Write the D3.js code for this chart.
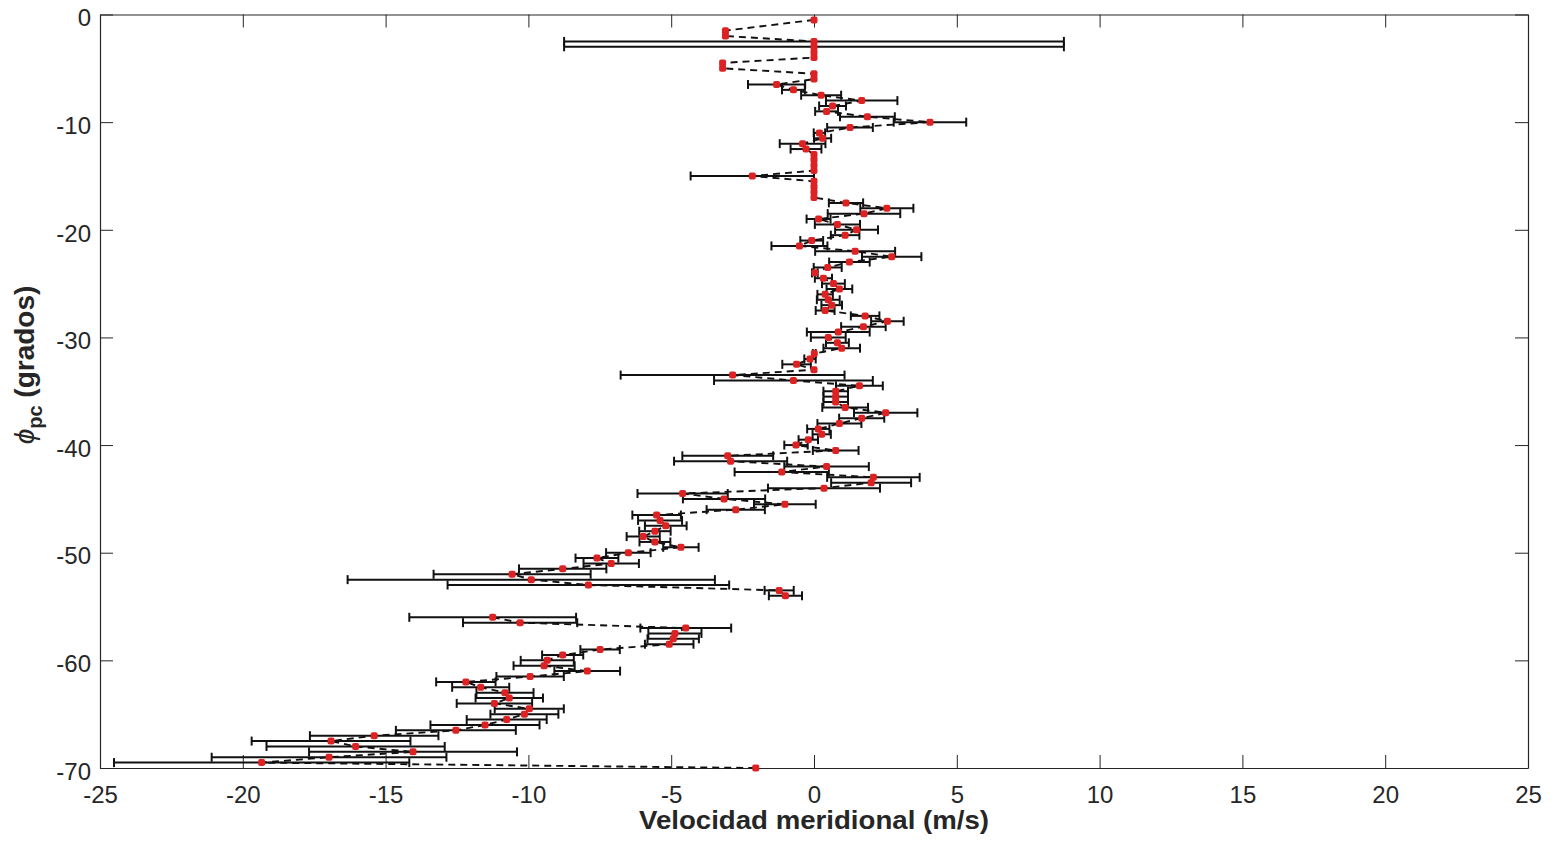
<!DOCTYPE html>
<html lang="es">
<head>
    <meta charset="UTF-8">
    <title>Velocidad meridional</title>
    <script src="https://d3js.org/d3.v7.min.js"></script>
    <style>
        body { margin: 0; background: #fff; }
        svg { display: block; font-family: "Liberation Sans", Arial, sans-serif; }
        .axis text { font-size: 24px; fill: #262626; }
        .axis path, .axis line { stroke: #262626; }
        .label { font-weight: bold; fill: #262626; }
    </style>
</head>
<body>
<div id="chart"></div>
<script>
// latitude (grados) of every sample, top to bottom
const lat = [-0.5, -1.5, -2, -2.5, -3, -3.5, -4, -4.5, -5, -5.5, -6, -6.5, -7, -7.5, -8, -8.5, -9, -9.5, -10,
    -10.5, -11, -11.5, -12, -12.5, -13, -13.5, -14, -14.5, -15, -15.5, -16, -16.5, -17, -17.5, -18, -18.5, -19,
    -19.5, -20, -20.5, -21, -21.5, -22, -22.5, -23, -23.5, -24, -24.5, -25, -25.5, -26, -26.5, -27, -27.5, -28,
    -28.5, -29, -29.5, -30, -30.5, -31, -31.5, -32, -32.5, -33, -33.5, -34, -34.5, -35, -35.5, -36, -36.5, -37,
    -37.5, -38, -38.5, -39, -39.5, -40, -40.5, -41, -41.5, -42, -42.5, -43, -43.5, -44, -44.5, -45, -45.5, -46,
    -46.5, -47, -47.5, -48, -48.5, -49, -49.5, -50, -50.5, -51, -51.5, -52, -52.5, -53, -53.5, -54, -54.5, -55,
    -55.5, -56, -56.5, -57, -57.5, -58, -58.5, -59, -59.5, -60, -60.5, -61, -61.5, -62, -62.5, -63, -63.5, -64,
    -64.5, -65, -65.5, -66, -66.5, -67, -67.5, -68, -68.5, -69, -69.5, -70];

// velocidad meridional (m/s); null = no data
const vel = [0, -3.1, -3.1, 0, 0, 0, 0, -3.2, -3.2, 0, 0, -1.31, -0.72, 0.25, 1.67, 0.65, 0.44, 1.87, 4.06,
    1.26, 0.19, 0.3, -0.4, -0.28, 0, 0, 0, 0, -2.16, 0, 0, 0, 0, 1.12, 2.55, 1.75, 0.16,
    0.82, 1.49, 1.09, -0.08, -0.51, 1.44, 2.72, 1.24, 0.48, 0.03, 0.33, 0.68, 0.89, 0.39, 0.5, 0.62, 0.39, 1.79,
    2.57, 1.73, 0.85, 0.5, 0.82, 0.97, 0.01, -0.14, -0.61, 0, -2.85, -0.72, 1.59, 0.76, 0.76, 0.76, 1.09, 2.51,
    1.67, 0.89, 0.15, 0.27, -0.2, -0.63, 0.76, -3.02, -2.92, 0.44, -1.13, 2.08, 2.0, 0.35, -4.6, -3.15, -1.02, -2.74,
    -5.51, -5.39, -5.19, -5.57, -5.98, -5.57, -4.66, -6.5, -7.6, -7.1, -8.8, -10.57, -9.9, -7.9, -1.22, -1.0, null, null,
    null, -11.25, -10.29, -4.49, -4.87, -4.93, -5.07, -7.49, -8.8, -9.34, -9.45, -7.94, -9.94, -12.19, -11.67, -10.82, -10.67, -11.19,
    -9.97, -10.14, -10.76, -11.52, -12.54, -15.4, -16.91, -16.05, -14.04, -16.98, -19.34, -2.04];

// half width of the horizontal error bar (m/s)
const err = [0, 0, 0, 8.75, 8.75, 0, 0, 0, 0, 0, 0, 1.0, 0.4, 0.7, 1.25, 0.47, 0.4, 0.96, 1.27,
    0.8, 0.2, 0.3, 0.8, 0.54, 0, 0, 0, 0, 2.16, 0, 0, 0, 0, 0.6, 0.93, 1.27, 0.42,
    0.79, 0.75, 0.5, 0.4, 0.98, 1.4, 1.04, 0.71, 0.49, 0.1, 0.3, 0.4, 0.45, 0.27, 0.4, 0.36, 0.33, 0.5,
    0.57, 0.78, 1.1, 0.61, 0.4, 0.64, 0.05, 0.2, 0.5, 0, 3.92, 2.78, 0.82, 0.43, 0.43, 0.43, 0.8, 1.11,
    0.79, 0.77, 0.39, 0.32, 0.34, 0.41, 0.8, 1.59, 1.98, 1.48, 1.65, 1.62, 1.4, 1.96, 1.58, 1.44, 1.08, 1.02,
    0.85, 0.77, 0.73, 0.55, 0.58, 0.54, 0.62, 0.78, 0.75, 0.97, 1.53, 2.75, 6.43, 4.93, 0.51, 0.58, null, null,
    null, 2.92, 2.0, 1.59, 0.93, 0.9, 0.85, 0.69, 0.72, 0.93, 1.07, 1.15, 1.18, 1.04, 1.0, 1.0, 1.18, 1.32,
    1.21, 1.19, 1.4, 1.91, 2.1, 2.25, 2.78, 3.12, 3.64, 4.11, 5.17, 0];

const xTicks = [-25, -20, -15, -10, -5, 0, 5, 10, 15, 20, 25];
const yTicks = [0, -10, -20, -30, -40, -50, -60, -70];

var data = lat.map(function(d, i) { return {lat: d, v: vel[i], e: err[i]}; });
var pts = data.filter(function(d) { return d.v !== null; });

var W = 1555, H = 850;
var margin = {top: 14.5, right: 27, bottom: 82, left: 100};

var svg = d3.select("#chart").append("svg")
    .attr("width", W)
    .attr("height", H);

var x = d3.scaleLinear().domain([-25, 25]).range([margin.left, W - margin.right]);
var y = d3.scaleLinear().domain([-70, 0]).range([H - margin.bottom, margin.top]);

var plain = function(d) { return String(d); }; // hyphen minus like MATLAB

// axes, MATLAB style: box with inward ticks
svg.append("g")
    .attr("class", "axis")
    .attr("transform", "translate(0," + y(-70) + ")")
    .call(d3.axisBottom(x).tickValues(xTicks).tickSizeInner(-13).tickSizeOuter(0).tickPadding(18).tickFormat(plain));

svg.append("g")
    .attr("class", "axis")
    .attr("transform", "translate(0," + y(0) + ")")
    .call(d3.axisTop(x).tickValues(xTicks).tickSizeInner(-13).tickSizeOuter(0).tickFormat(""));

svg.append("g")
    .attr("class", "axis")
    .attr("transform", "translate(" + x(-25) + ",0)")
    .call(d3.axisLeft(y).tickValues(yTicks).tickSizeInner(-13).tickSizeOuter(0).tickPadding(9).tickFormat(plain))
    .call(function(g) { g.selectAll("text").attr("dy", "0.47em"); });

svg.append("g")
    .attr("class", "axis")
    .attr("transform", "translate(" + x(25) + ",0)")
    .call(d3.axisRight(y).tickValues(yTicks).tickSizeInner(-13).tickSizeOuter(0).tickFormat(""));

svg.selectAll(".axis path").attr("stroke-width", 1.2);

// error bars
var bars = svg.append("g").attr("class", "errbars")
    .selectAll("g")
    .data(pts.filter(function(d) { return d.e > 0; }))
    .enter().append("g");

bars.append("line")
    .attr("x1", function(d) { return x(d.v - d.e); })
    .attr("x2", function(d) { return x(d.v + d.e); })
    .attr("y1", function(d) { return y(d.lat); })
    .attr("y2", function(d) { return y(d.lat); })
    .attr("stroke", "#111")
    .attr("stroke-width", 2);

[-1, 1].forEach(function(s) {
    bars.append("line")
        .attr("x1", function(d) { return x(d.v + s * d.e); })
        .attr("x2", function(d) { return x(d.v + s * d.e); })
        .attr("y1", function(d) { return y(d.lat) - 4.5; })
        .attr("y2", function(d) { return y(d.lat) + 4.5; })
        .attr("stroke", "#111")
        .attr("stroke-width", 2);
});

// dashed line joining the samples
var line = d3.line()
    .defined(function(d) { return d.v !== null; })
    .x(function(d) { return x(d.v); })
    .y(function(d) { return y(d.lat); });

svg.append("path")
    .datum(data)
    .attr("d", line)
    .attr("fill", "none")
    .attr("stroke", "#111")
    .attr("stroke-width", 1.9)
    .attr("stroke-dasharray", "7,5");

// markers
svg.append("g")
    .selectAll("rect")
    .data(pts)
    .enter().append("rect")
    .attr("x", function(d) { return x(d.v) - 3.5; })
    .attr("y", function(d) { return y(d.lat) - 3.5; })
    .attr("width", 7)
    .attr("height", 7)
    .attr("rx", 2)
    .attr("fill", "#dc2222");

// axis labels
svg.append("text")
    .attr("class", "label")
    .attr("x", x(0))
    .attr("y", 829)
    .attr("text-anchor", "middle")
    .attr("textLength", 350)
    .attr("lengthAdjust", "spacingAndGlyphs")
    .style("font-size", "25px")
    .text("Velocidad meridional (m/s)");

var yl = svg.append("text")
    .attr("class", "label")
    .attr("transform", "translate(34,365) rotate(-90)")
    .attr("text-anchor", "middle")
    .style("font-size", "28px");
yl.append("tspan").style("font-style", "italic").style("font-weight", "normal").text("ϕ");
yl.append("tspan").attr("dy", 8).style("font-size", "20px").text("pc");
yl.append("tspan").attr("dy", -8).text(" (grados)");
</script>
</body>
</html>
